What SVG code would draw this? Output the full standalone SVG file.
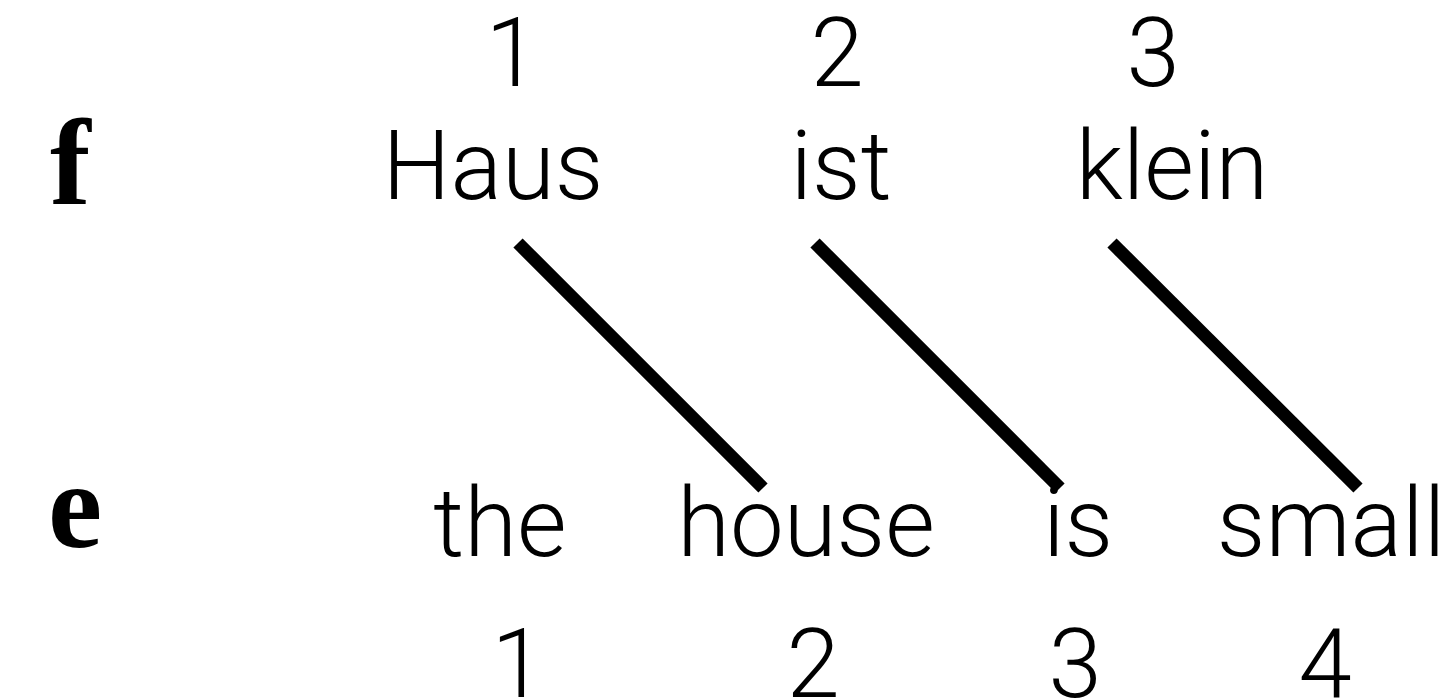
<svg xmlns="http://www.w3.org/2000/svg" width="1449" height="700" viewBox="0 0 1449 700">
<style>
.w{font-family:Roboto,"Liberation Sans",Arial,sans-serif;font-weight:300;font-size:96px;fill:#000;text-anchor:middle}
.v{font-family:"Liberation Serif","Times New Roman",serif;font-weight:bold;font-size:122px;fill:#000}
.ln{stroke:#000;stroke-width:13;fill:none}
</style>
<rect width="1449" height="700" fill="#fff"/>
<g id="label-f"><text class="v" x="50" y="204">f</text></g>
<g id="label-e"><text class="v" x="48" y="547">e</text></g>
<g id="f1"><text class="w" x="512" y="86">1</text><text class="w" x="493" y="199">Haus</text></g>
<g id="f2"><text class="w" x="837" y="86">2</text><text class="w" x="841" y="199">ist</text></g>
<g id="f3"><text class="w" x="1153" y="86">3</text><text class="w" x="1172" y="199">klein</text></g>
<g id="e1"><text class="w" x="500" y="556">the</text><text class="w" x="518" y="697">1</text></g>
<g id="e2"><text class="w" x="806" y="556">house</text><text class="w" x="813" y="697">2</text></g>
<g id="e3"><text class="w" x="1078" y="556">is</text><text class="w" x="1075" y="697">3</text></g>
<g id="e4"><text class="w" x="1331" y="556">small</text><text class="w" x="1325" y="697">4</text></g>
<g id="connectors">
<line class="ln" x1="518" y1="243" x2="763" y2="488"/>
<line class="ln" x1="815" y1="243" x2="1060" y2="488"/>
<line class="ln" x1="1112" y1="243" x2="1358" y2="488"/>
</g>
</svg>
